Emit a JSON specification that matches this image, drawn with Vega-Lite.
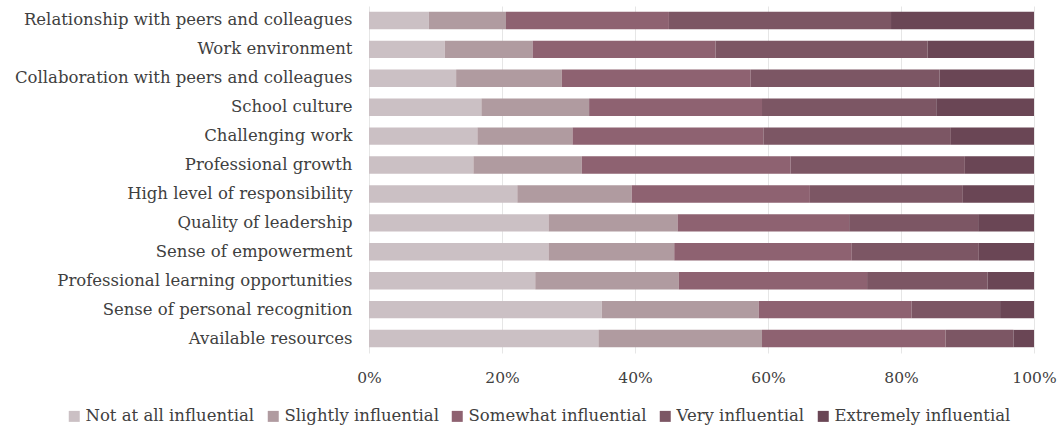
{
  "$schema": "https://vega.github.io/schema/vega-lite/v6.json",
  "autosize": "none",
  "width": 665,
  "height": 347,
  "padding": {"left": 369, "top": 6, "right": 26, "bottom": 72},
  "background": "white",
  "config": {
    "view": {"stroke": null},
    "font": "DejaVu Serif",
    "axis": {"labelFont": "DejaVu Serif", "labelColor": "#404040", "gridColor": "#e6e6e6", "domain": false, "ticks": false},
    "legend": {"labelFont": "DejaVu Serif", "labelColor": "#404040"}
  },
  "datasets": {
    "levels": [
      {"level": "Not at all influential", "rank": 1},
      {"level": "Slightly influential", "rank": 2},
      {"level": "Somewhat influential", "rank": 3},
      {"level": "Very influential", "rank": 4},
      {"level": "Extremely influential", "rank": 5}
    ],
    "d": [
      {"factor": "Relationship with peers and colleagues", "level": "Not at all influential", "pct": 9.0},
      {"factor": "Relationship with peers and colleagues", "level": "Slightly influential", "pct": 11.6},
      {"factor": "Relationship with peers and colleagues", "level": "Somewhat influential", "pct": 24.5},
      {"factor": "Relationship with peers and colleagues", "level": "Very influential", "pct": 33.4},
      {"factor": "Relationship with peers and colleagues", "level": "Extremely influential", "pct": 21.5},
      {"factor": "Work environment", "level": "Not at all influential", "pct": 11.4},
      {"factor": "Work environment", "level": "Slightly influential", "pct": 13.2},
      {"factor": "Work environment", "level": "Somewhat influential", "pct": 27.5},
      {"factor": "Work environment", "level": "Very influential", "pct": 31.9},
      {"factor": "Work environment", "level": "Extremely influential", "pct": 16.0},
      {"factor": "Collaboration with peers and colleagues", "level": "Not at all influential", "pct": 13.1},
      {"factor": "Collaboration with peers and colleagues", "level": "Slightly influential", "pct": 15.9},
      {"factor": "Collaboration with peers and colleagues", "level": "Somewhat influential", "pct": 28.4},
      {"factor": "Collaboration with peers and colleagues", "level": "Very influential", "pct": 28.4},
      {"factor": "Collaboration with peers and colleagues", "level": "Extremely influential", "pct": 14.2},
      {"factor": "School culture", "level": "Not at all influential", "pct": 16.9},
      {"factor": "School culture", "level": "Slightly influential", "pct": 16.2},
      {"factor": "School culture", "level": "Somewhat influential", "pct": 26.0},
      {"factor": "School culture", "level": "Very influential", "pct": 26.2},
      {"factor": "School culture", "level": "Extremely influential", "pct": 14.7},
      {"factor": "Challenging work", "level": "Not at all influential", "pct": 16.3},
      {"factor": "Challenging work", "level": "Slightly influential", "pct": 14.3},
      {"factor": "Challenging work", "level": "Somewhat influential", "pct": 28.7},
      {"factor": "Challenging work", "level": "Very influential", "pct": 28.2},
      {"factor": "Challenging work", "level": "Extremely influential", "pct": 12.5},
      {"factor": "Professional growth", "level": "Not at all influential", "pct": 15.7},
      {"factor": "Professional growth", "level": "Slightly influential", "pct": 16.3},
      {"factor": "Professional growth", "level": "Somewhat influential", "pct": 31.4},
      {"factor": "Professional growth", "level": "Very influential", "pct": 26.2},
      {"factor": "Professional growth", "level": "Extremely influential", "pct": 10.4},
      {"factor": "High level of responsibility", "level": "Not at all influential", "pct": 22.3},
      {"factor": "High level of responsibility", "level": "Slightly influential", "pct": 17.2},
      {"factor": "High level of responsibility", "level": "Somewhat influential", "pct": 26.8},
      {"factor": "High level of responsibility", "level": "Very influential", "pct": 23.0},
      {"factor": "High level of responsibility", "level": "Extremely influential", "pct": 10.7},
      {"factor": "Quality of leadership", "level": "Not at all influential", "pct": 27.0},
      {"factor": "Quality of leadership", "level": "Slightly influential", "pct": 19.4},
      {"factor": "Quality of leadership", "level": "Somewhat influential", "pct": 25.8},
      {"factor": "Quality of leadership", "level": "Very influential", "pct": 19.4},
      {"factor": "Quality of leadership", "level": "Extremely influential", "pct": 8.4},
      {"factor": "Sense of empowerment", "level": "Not at all influential", "pct": 27.0},
      {"factor": "Sense of empowerment", "level": "Slightly influential", "pct": 18.9},
      {"factor": "Sense of empowerment", "level": "Somewhat influential", "pct": 26.7},
      {"factor": "Sense of empowerment", "level": "Very influential", "pct": 19.1},
      {"factor": "Sense of empowerment", "level": "Extremely influential", "pct": 8.3},
      {"factor": "Professional learning opportunities", "level": "Not at all influential", "pct": 25.0},
      {"factor": "Professional learning opportunities", "level": "Slightly influential", "pct": 21.6},
      {"factor": "Professional learning opportunities", "level": "Somewhat influential", "pct": 28.3},
      {"factor": "Professional learning opportunities", "level": "Very influential", "pct": 18.1},
      {"factor": "Professional learning opportunities", "level": "Extremely influential", "pct": 7.0},
      {"factor": "Sense of personal recognition", "level": "Not at all influential", "pct": 35.0},
      {"factor": "Sense of personal recognition", "level": "Slightly influential", "pct": 23.6},
      {"factor": "Sense of personal recognition", "level": "Somewhat influential", "pct": 23.0},
      {"factor": "Sense of personal recognition", "level": "Very influential", "pct": 13.3},
      {"factor": "Sense of personal recognition", "level": "Extremely influential", "pct": 5.1},
      {"factor": "Available resources", "level": "Not at all influential", "pct": 34.5},
      {"factor": "Available resources", "level": "Slightly influential", "pct": 24.6},
      {"factor": "Available resources", "level": "Somewhat influential", "pct": 27.6},
      {"factor": "Available resources", "level": "Very influential", "pct": 10.2},
      {"factor": "Available resources", "level": "Extremely influential", "pct": 3.1}
    ]
  },
  "data": {"name": "d"},
  "transform": [
    {"lookup": "level", "from": {"data": {"name": "levels"}, "key": "level", "fields": ["rank"]}}
  ],
  "mark": {"type": "bar"},
  "encoding": {
    "y": {
      "field": "factor", "type": "nominal", "sort": null, "title": null,
      "scale": {"paddingInner": 0.4, "paddingOuter": 0.2},
      "axis": {"labelFontSize": 16.5, "labelPadding": 17, "labelLimit": 400, "grid": false}
    },
    "x": {
      "field": "pct", "type": "quantitative", "stack": "zero", "title": null,
      "scale": {"domain": [0, 100], "nice": false},
      "axis": {"values": [0, 20, 40, 60, 80, 100], "labelExpr": "datum.value + '%'", "labelFontSize": 15.5, "labelPadding": 17, "labelFlush": false, "grid": true}
    },
    "color": {
      "field": "level", "type": "nominal", "title": null,
      "sort": ["Not at all influential", "Slightly influential", "Somewhat influential", "Very influential", "Extremely influential"],
      "scale": {
        "domain": ["Not at all influential", "Slightly influential", "Somewhat influential", "Very influential", "Extremely influential"],
        "range": ["#cbc0c4", "#b09ba0", "#8e6271", "#7c5664", "#6a4655"]
      },
      "legend": {
        "orient": "none", "legendX": -303, "legendY": 402, "direction": "horizontal",
        "symbolType": "square", "symbolSize": 121, "symbolStrokeWidth": 0, "labelFontSize": 16.5,
        "columnPadding": 10, "labelOffset": 3, "labelLimit": 300
      }
    },
    "order": {"field": "rank", "type": "quantitative", "sort": "ascending"}
  }
}
